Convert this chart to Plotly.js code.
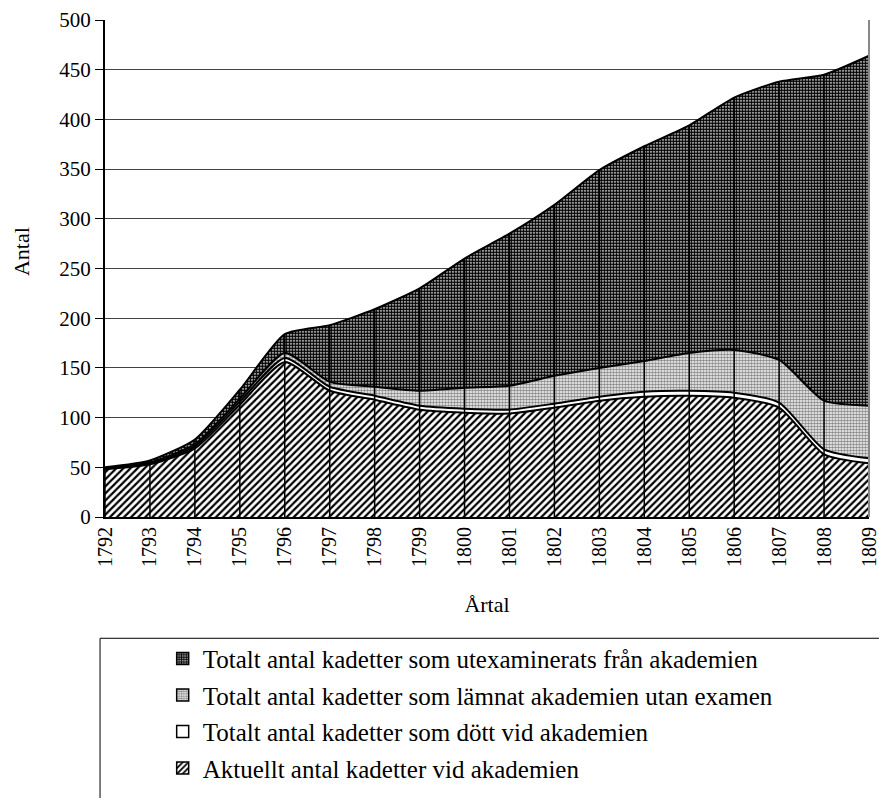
<!DOCTYPE html>
<html>
<head>
<meta charset="utf-8">
<script src="https://cdn.plot.ly/plotly-3.0.1.min.js"></script>
<style>html,body{margin:0;padding:0;background:#fff;}#chart{width:879px;height:798px;}</style>
</head>
<body>
<div id="chart"></div>
<script>
// Data
const years = [1792,1793,1794,1795,1796,1797,1798,1799,1800,1801,1802,1803,1804,1805,1806,1807,1808,1809];
const current   = [48, 53, 69, 113, 156, 127, 118, 108, 105, 104, 110, 117, 121, 122, 120, 110, 63, 54];
const dead      = [1, 1, 2, 3, 4, 4, 4, 4, 4, 4, 4, 4, 5, 5, 5, 5, 5, 5];
const leftNoExam= [0, 1, 2, 3, 5, 5, 9, 15, 21, 24, 28, 29, 31, 38, 43, 43, 49, 53];
const graduated = [1, 2, 5, 9, 19, 57, 78, 103, 130, 153, 172, 199, 216, 229, 254, 280, 328, 352];
const yTicks = [0,50,100,150,200,250,300,350,400,450,500];

const names = [
  'Aktuellt antal kadetter vid akademien',
  'Totalt antal kadetter som dött vid akademien',
  'Totalt antal kadetter som lämnat akademien utan examen',
  'Totalt antal kadetter som utexaminerats från akademien'
];

const FONT = 'Liberation Serif, DejaVu Serif, serif';
const lineStyle = {color:'black', width:2, shape:'spline', smoothing:0.6};

const patterns = [
  {shape:'/', fgcolor:'black', bgcolor:'white', size:5, solidity:0.45},
  {shape:'', fgcolor:'black', bgcolor:'white'},
  {shape:'.', fgcolor:'#888', bgcolor:'white', size:3, solidity:0.6},
  {shape:'.', fgcolor:'black', bgcolor:'white', size:3, solidity:0.75}
];
const seriesValues = [current, dead, leftNoExam, graduated];

const traces = seriesValues.map((vals, k) => ({
  x: years, y: vals, name: names[k], type:'scatter', mode:'lines',
  stackgroup:'one', line: lineStyle, fillcolor:'white', fillpattern: patterns[k],
  showlegend:false, hoverinfo:'skip'
}));

// drop lines at each year, from 0 to the stacked total
const total = years.map((_, i) => current[i] + dead[i] + leftNoExam[i] + graduated[i]);
const dx = [], dy = [];
years.forEach((yr, i) => { dx.push(yr, yr, null); dy.push(0, total[i], null); });
traces.push({x:dx, y:dy, type:'scatter', mode:'lines', line:{color:'black', width:1.5},
  showlegend:false, hoverinfo:'skip'});

// legend entries (square pattern swatches), top to bottom
[3,2,1,0].forEach(k => {
  traces.push({
    type:'bar', x:[null], y:[null], name:names[k], legendgroup:'g'+k,
    marker:{color:'white', pattern:patterns[k], line:{color:'black', width:1.5}},
    showlegend:true, hoverinfo:'skip'
  });
});

const layout = {
  width:879, height:798,
  margin:{l:105, r:10, t:20, b:281, autoexpand:false},
  paper_bgcolor:'white', plot_bgcolor:'white',
  font:{family:FONT, color:'black', size:17},
  showlegend:true,
  xaxis:{
    range:[1792,1809], tickvals:years, ticktext:years.map(String),
    tickangle:-90, tickfont:{family:FONT, size:20}, ticklabeloverflow:'allow',
    showgrid:false, zeroline:false, showline:true, linecolor:'black', linewidth:2,
    ticks:'', automargin:false,
    title:{text:'Årtal', font:{family:FONT, size:22}, standoff:31}
  },
  yaxis:{
    range:[0,500], tickvals:yTicks, ticktext:yTicks.map(String),
    tickfont:{family:FONT, size:21}, automargin:false,
    showgrid:true, gridcolor:'#444', gridwidth:1,
    zeroline:false, showline:true, linecolor:'black', linewidth:2,
    ticks:'outside', ticklen:8, tickcolor:'black'
  },
  annotations:[
    {text:'Antal', xref:'paper', yref:'paper', x:-0.11, y:0.535, textangle:-90,
     showarrow:false, font:{family:FONT, size:22}, xanchor:'center', yanchor:'middle'}
  ],
  legend:{
    x:0.0755, xanchor:'left', y:-0.239, yanchor:'top',
    traceorder:'grouped', tracegroupgap:1,
    font:{family:FONT, size:25}, bgcolor:'rgba(0,0,0,0)', borderwidth:0
  },
  shapes:[
    {type:'line', xref:'paper', yref:'paper', x0:1, x1:1, y0:0, y1:1, line:{color:'#888', width:2}},
    {type:'line', xref:'paper', yref:'paper', x0:-0.0065, x1:1.02, y0:-0.244, y1:-0.244, line:{color:'black', width:1}},
    {type:'line', xref:'paper', yref:'paper', x0:-0.0065, x1:-0.0065, y0:-0.244, y1:-0.6, line:{color:'black', width:1}}
  ]
};

Plotly.newPlot('chart', traces, layout, {displayModeBar:false, staticPlot:true});
</script>
</body>
</html>
